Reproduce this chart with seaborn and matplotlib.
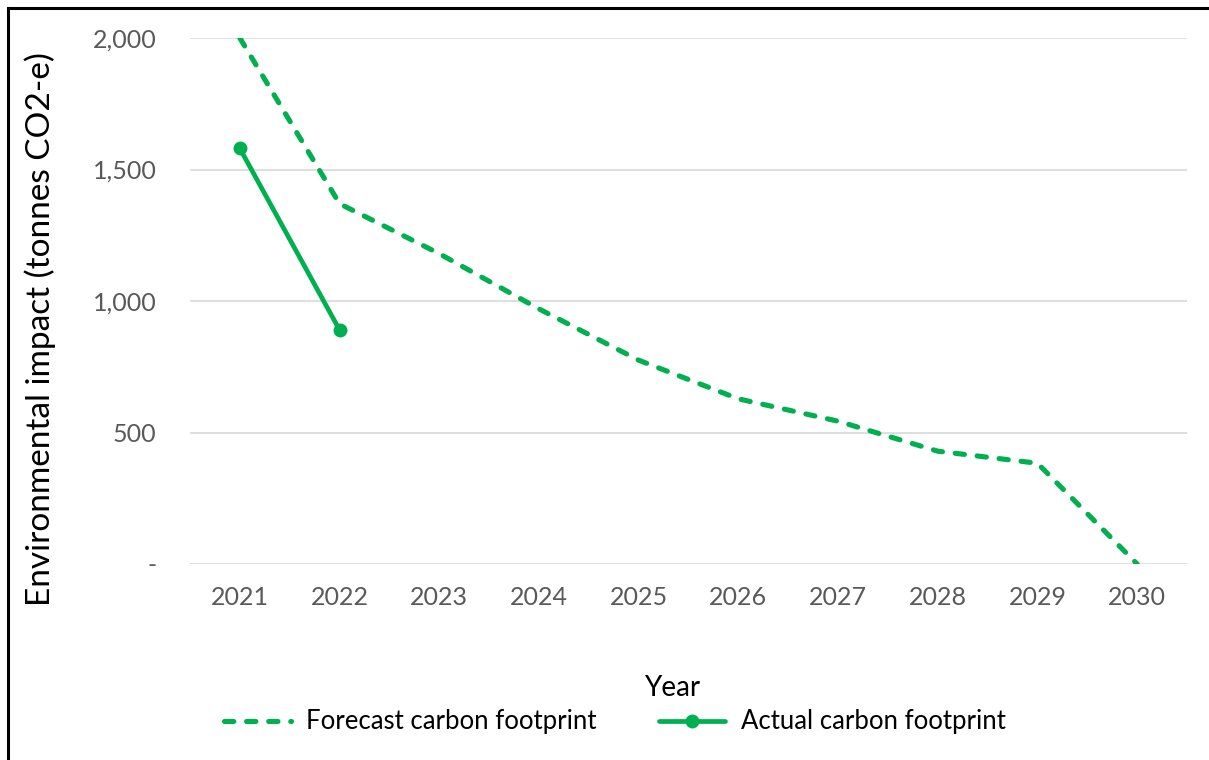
import matplotlib
matplotlib.use("Agg")
import matplotlib.pyplot as plt
from matplotlib.lines import Line2D
import pandas as pd
import seaborn as sns

# Data
years = ["2021", "2022", "2023", "2024", "2025", "2026", "2027", "2028", "2029", "2030"]
forecast = [2000, 1370, 1180, 970, 775, 628, 543, 429, 383, 0]
actual_years = ["2021", "2022"]
actual = [1580, 890]
y_ticks = [0, 500, 1000, 1500, 2000]
y_tick_labels = ["-", "500", "1,000", "1,500", "2,000"]

GREEN = "#00B050"
GREY_TXT = "#595959"

sns.set_theme(style="white")
plt.rcParams["font.family"] = ["Lato", "DejaVu Sans"]

fig = plt.figure(figsize=(12.09, 7.60), dpi=100)
ax = fig.add_axes([190 / 1209, 1 - 564 / 760, (1187 - 190) / 1209, (564 - 38) / 760])

df_forecast = pd.DataFrame({"Year": years, "Value": forecast})
df_actual = pd.DataFrame({"Year": actual_years, "Value": actual})

sns.lineplot(data=df_forecast, x="Year", y="Value", ax=ax, color=GREEN,
             linewidth=3.7, dashes=False, label="Forecast carbon footprint",
             sort=False)
fl = ax.lines[-1]
fl.set_dashes((1.8, 2.5))
fl.set_dash_capstyle("round")
fl.set_solid_joinstyle("round")

sns.lineplot(data=df_actual, x="Year", y="Value", ax=ax, color=GREEN,
             linewidth=3.4, marker="o", markersize=10, markeredgewidth=0,
             label="Actual carbon footprint", sort=False)
al = ax.lines[-1]
al.set_solid_capstyle("round")

ax.set_xlim(-0.5, len(years) - 0.5)
ax.set_ylim(0, 2000)
ax.set_yticks(y_ticks)
ax.set_yticklabels(y_tick_labels)
ax.yaxis.grid(True, color="#D9D9D9", linewidth=1.2)
ax.set_axisbelow(True)
for s in ax.spines.values():
    s.set_visible(False)
ax.tick_params(axis="both", length=0, labelsize=18, labelcolor=GREY_TXT)
ax.tick_params(axis="y", pad=24)
ax.tick_params(axis="x", pad=16)

ax.set_xlabel("")
ax.set_ylabel("")
fig.text(40 / 1209, 1 - 329 / 760, "Environmental impact (tonnes CO2-e)",
         rotation=90, ha="center", va="center", fontsize=24, color="black")
fig.text(672 / 1209, 1 - 688 / 760, "Year", ha="center", va="center",
         fontsize=20, color="black")

ax.get_legend().remove()
handles = [
    Line2D([], [], color=GREEN, linewidth=3.7, dashes=(1.8, 2.5),
           dash_capstyle="round"),
    Line2D([], [], color=GREEN, linewidth=3.4, marker="o", markersize=10,
           markeredgewidth=0),
]
fig.legend(handles, ["Forecast carbon footprint", "Actual carbon footprint"],
           loc="center", bbox_to_anchor=(615 / 1209, 1 - 722 / 760), ncol=2,
           frameon=False, fontsize=18.5, handlelength=2.6, handletextpad=0.6,
           columnspacing=2.4, labelcolor="black")

# Outer frame (left and top edges)
fig.add_artist(Line2D([7.5 / 1209, 7.5 / 1209], [0, 1 - 8 / 760],
                      transform=fig.transFigure, color="black", linewidth=2.2,
                      solid_capstyle="projecting"))
fig.add_artist(Line2D([7.5 / 1209, 1], [1 - 8 / 760, 1 - 8 / 760],
                      transform=fig.transFigure, color="black", linewidth=2.2,
                      solid_capstyle="projecting"))

fig.savefig("out.png", dpi=100, facecolor="white")
